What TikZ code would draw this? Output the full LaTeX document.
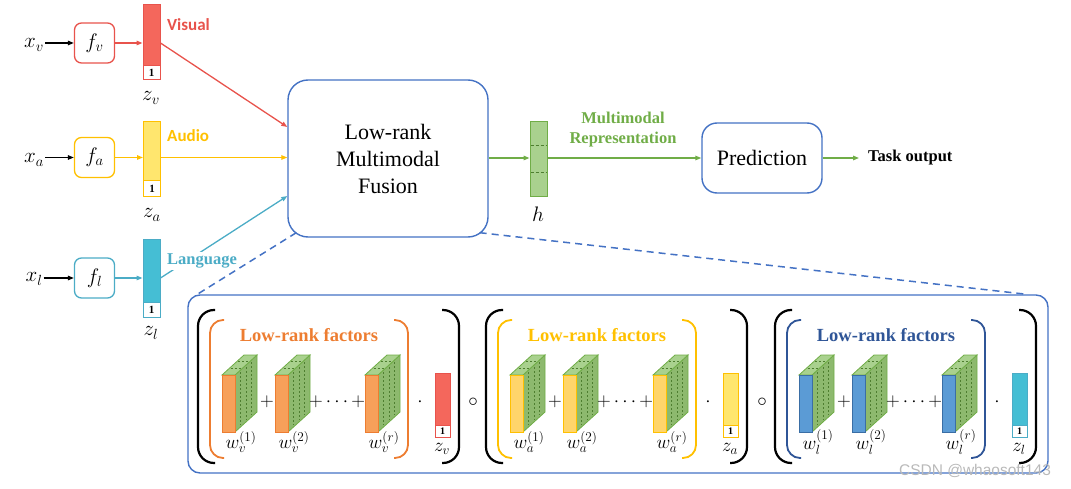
\RequirePackage{fix-cm}
\documentclass[tikz,border=0pt]{standalone}
\usepackage{fontspec}
\setmainfont{Liberation Serif}
\newfontfamily\calib{Carlito}
\newfontfamily\wmfont{Liberation Sans}
\usetikzlibrary{arrows.meta,calc}
\definecolor{redl}{HTML}{E8534C}
\definecolor{redf}{HTML}{F4675C}
\definecolor{yell}{HTML}{FFC000}
\definecolor{yelf}{HTML}{FFE66E}
\definecolor{cyl}{HTML}{4BACC6}
\definecolor{cyf}{HTML}{45BED4}
\definecolor{blu}{HTML}{4472C4}
\definecolor{dblu}{HTML}{2F5597}
\definecolor{grn}{HTML}{70AD47}
\definecolor{grnf}{HTML}{A9D18E}
\definecolor{grnd}{HTML}{8DB96E}
\definecolor{grnk}{HTML}{4E7E30}
\definecolor{orl}{HTML}{ED7D31}
\definecolor{orf}{HTML}{F7A05A}
\definecolor{yof}{HTML}{FFD56B}
\definecolor{bluf}{HTML}{5B9BD5}
\definecolor{blud}{HTML}{3A6EA5}
\newcommand{\factorblk}[3]{%
  \begin{scope}[shift={(#1,375)}]
    \filldraw[fill=grnd, draw=grn, line width=0.8pt] (13,0) -- (35,-20) -- (35,37) -- (13,57) -- cycle;
    \filldraw[fill=grnf, draw=grn, line width=0.8pt] (0,0) -- (22,-20) -- (35,-20) -- (13,0) -- cycle;
    \foreach \t in {0.25,0.5,0.75}
      \draw[grnk, line width=0.6pt, dash pattern=on 2pt off 2pt] ($(13,2)!\t!(35,-18)$) -- ($(13,55)!\t!(35,35)$);
    \foreach \t in {0.35,0.7}
      \draw[grnk, line width=0.6pt, dash pattern=on 2pt off 2pt] ($(1,0)!\t!(23,-20)$) -- ($(12,0)!\t!(34,-20)$);
    \filldraw[fill=#2, draw=#3, line width=0.8pt] (0,0) rectangle (13,57);
  \end{scope}}
\begin{document}
\begin{tikzpicture}[x=1pt,y=-1pt,
  tip/.style={-{Triangle[length=6pt,width=4.5pt]}},
  conn/.style={line width=1.3pt, tip},
  mathlab/.style={font=\fontsize{21}{24}\selectfont, inner sep=1pt},
  fbox/.style={draw, line width=1.3pt, rounded corners=7pt, minimum width=40pt, minimum height=40pt, inner sep=0pt, font=\fontsize{21}{24}\selectfont},
  bar/.style={draw, line width=1pt, minimum width=17pt, minimum height=75pt, inner sep=0pt},
  onebox/.style={draw, fill=white, line width=1pt, inner sep=0pt, font=\bfseries\fontsize{11}{11}\selectfont},
  rbox/.style={draw=blu, fill=white, line width=1.4pt, rounded corners=20pt, align=center},
  modlab/.style={anchor=west, inner sep=1pt, font=\calib\bfseries\fontsize{17}{18}\selectfont},
  boldlab/.style={font=\bfseries\fontsize{16.5}{20}\selectfont, align=center, inner sep=0pt},
  blackbr/.style={line width=2.2pt, rounded corners=16pt},
  colbr/.style={line width=1.8pt, rounded corners=13pt},
  wlab/.style={font=\fontsize{19}{22}\selectfont, inner sep=0pt},
  opn/.style={font=\fontsize{19}{22}\selectfont, inner sep=0pt},
  dashconn/.style={draw=blu, line width=1.5pt, dash pattern=on 7pt off 5pt}
]
\useasboundingbox (0,0) rectangle (1071,489);

% ---------- left column ----------
\node[mathlab] (xv) at (34,45) {$x_v$};
\node[mathlab] (xa) at (34,160) {$x_a$};
\node[mathlab] (xl) at (34,279) {$x_l$};
\node[fbox, draw=redl] (fv) at (94.5,43) {$f_v$};
\node[fbox, draw=yell] (fa) at (94.5,157.5) {$f_a$};
\node[fbox, draw=cyl] (fl) at (94.5,278) {$f_l$};
\draw[conn, black, line width=1.2pt] (xv.east |- fv) -- (fv.west);
\draw[conn, black, line width=1.2pt] (xa.east |- fa) -- (fa.west);
\draw[conn, black, line width=1.2pt] (xl.east |- fl) -- (fl.west);

\node[bar, draw=redl, fill=redf] (zv) at (151.5,42.5) {};
\node[onebox, draw=redl, minimum width=17pt, minimum height=14pt, anchor=south] (zv1) at (zv.south) {1};
\node[bar, draw=yell, fill=yelf] (za) at (152,159) {};
\node[onebox, draw=yell, minimum width=17pt, minimum height=16pt, anchor=south] (za1) at (za.south) {1};
\node[bar, draw=cyl, fill=cyf, minimum height=77pt] (zl) at (151.5,278.5) {};
\node[onebox, draw=cyl, minimum width=17pt, minimum height=15pt, anchor=south] (zl1) at (zl.south) {1};

\node[mathlab] (zvl) at (151,98) {$z_v$};
\node[mathlab] (zal) at (152,215) {$z_a$};
\node[mathlab] (zll) at (151,333) {$z_l$};

\draw[conn, redl] (fv.east) -- (fv -| zv.west);
\draw[conn, yell] (fa.east) -- (fa -| za.west);
\draw[conn, cyl] (fl.east) -- (fl -| zl.west);

% ---------- fusion ----------
\node[rbox, minimum width=200pt, minimum height=157pt, font=\fontsize{22}{27}\selectfont] (fusion) at (388,158.5) {Low-rank\\Multimodal\\Fusion};

\draw[conn, redl] (fv -| zv.east) -- ($(fusion.west)+(0,-31.5)$);
\draw[conn, yell] (fa -| za.east) -- (fa -| fusion.west);
\draw[conn, cyl] (fl -| zl.east) -- ($(fusion.west)+(0,37.5)$);

\node[modlab, text=redl] (vis) at (166,25) {Visual};
\node[modlab, text=yell] (aud) at (166,136) {Audio};
\node[anchor=west, inner sep=2pt, fill=white, text=cyl, font=\bfseries\fontsize{16.5}{18}\selectfont] (lang) at (165,261) {Language};

% ---------- h and prediction ----------
\node[draw=grn, fill=grnf, line width=1pt, minimum width=17pt, minimum height=75pt, inner sep=0pt] (h) at (538.5,159.5) {};
\draw[grnk, line width=0.7pt, dash pattern=on 3pt off 2pt] ($(h.north west)+(1,24)$) -- ($(h.north east)+(-1,24)$);
\draw[grnk, line width=0.7pt, dash pattern=on 3pt off 2pt] ($(h.north west)+(1,51)$) -- ($(h.north east)+(-1,51)$);
\node[mathlab] (hl) at (538,214) {$h$};
\draw[conn, grn] (fusion.east |- 0,158) -- (h.west |- 0,158);

\node[rbox, minimum width=120pt, minimum height=70pt, rounded corners=15pt, font=\fontsize{22}{26}\selectfont] (pred) at (762,158) {Prediction};
\draw[conn, grn] (h.east |- pred) -- (pred.west);
\node[boldlab, text=grn] (mr) at (623,130) {Multimodal\\Representation};
\node[boldlab, anchor=west] (task) at (868,158) {Task output};
\draw[conn, grn] (pred.east) -- (task.west) [shorten >=9pt];

% ---------- detail box ----------
\node[draw=blu, line width=1.4pt, rounded corners=12pt, minimum width=860pt, minimum height=178pt] (detail) at (618,384) {};
\draw[dashconn] ($(fusion.south west)+(9,-5)$) -- ($(detail.north west)+(10,0)$);
\draw[dashconn] ($(fusion.south east)+(-9,-5)$) -- ($(detail.north east)+(-22,0)$);

\foreach \g/\c/\ff/\fb/\zf/\zb/\s [count=\i] in
   {0/orl/orf/orl/redf/redl/v, 288/yell/yof/yell/yelf/yell/a, 577/dblu/bluf/blud/cyf/cyl/l} {
  \draw[blackbr] (215+\g,310) -- (198+\g,310) -- (198+\g,463) -- (215+\g,463);
  \draw[blackbr] (442+\g,310) -- (459+\g,310) -- (459+\g,463) -- (442+\g,463);
  \draw[colbr, draw=\c] (224+\g,320) -- (210+\g,320) -- (210+\g,458) -- (224+\g,458);
  \draw[colbr, draw=\c] (394+\g,320) -- (408+\g,320) -- (408+\g,458) -- (394+\g,458);
  \node[text=\c, inner sep=0pt, font=\bfseries\fontsize{18.5}{20}\selectfont] (lrf\i) at (309+\g,335) {Low-rank factors};
  \factorblk{222+\g}{\ff}{\fb}
  \factorblk{275+\g}{\ff}{\fb}
  \factorblk{365+\g}{\ff}{\fb}
  \node[wlab] (wa\i) at (241+\g,442) {$w_{\s}^{(1)}$};
  \node[wlab] (wb\i) at (294+\g,442) {$w_{\s}^{(2)}$};
  \node[wlab] (wc\i) at (384+\g,442) {$w_{\s}^{(r)}$};
  \node[opn] (pa\i) at (267+\g,402) {$+$};
  \node[opn] (pb\i) at (337+\g,402) {$+\cdots+$};
  \node[opn] (dt\i) at (420+\g,402) {$\cdot$};
  \node[bar, draw=\zb, fill=\zf, minimum width=15pt, minimum height=64pt] (zs\i) at (442.5+\g,405) {};
  \node[onebox, draw=\zb, minimum width=15pt, minimum height=12pt, anchor=south, font=\bfseries\fontsize{10}{10}\selectfont] (zo\i) at (zs\i.south) {1};
  \node[wlab] (zsl\i) at (442+\g,449) {$z_{\s}$};
}
\node[opn] (circ1) at (473,402) {$\circ$};
\node[opn] (circ2) at (762,402) {$\circ$};

\node[text=gray!55, inner sep=0pt, font=\wmfont\fontsize{15.5}{16}\selectfont] (wm) at (975,471) {CSDN @whaosoft143};
\end{tikzpicture}
\end{document}
